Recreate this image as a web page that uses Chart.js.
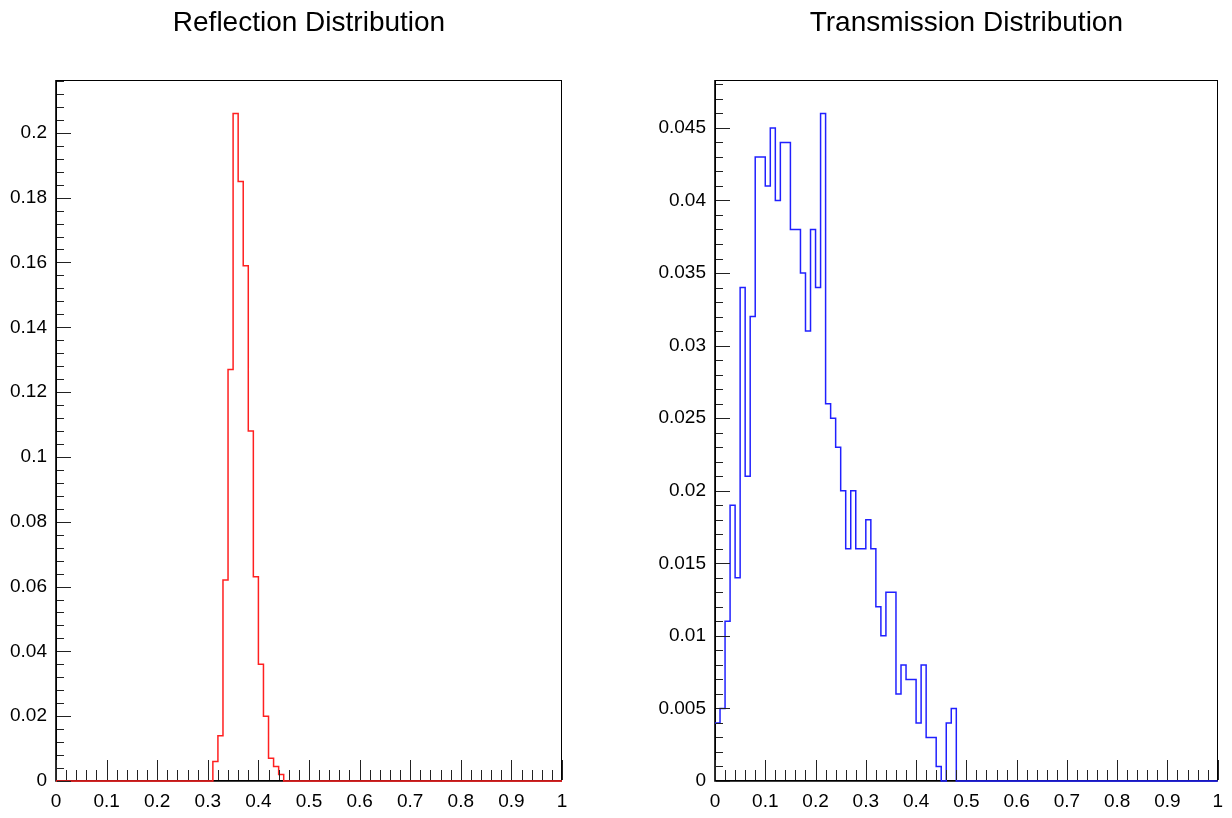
<!DOCTYPE html>
<html><head><meta charset="utf-8">
<script src="https://cdn.jsdelivr.net/npm/chart.js@4.4.1/dist/chart.umd.min.js"></script>
<style>
html,body{margin:0;padding:0;background:#fff;}
#wrap{position:relative;width:1232px;height:818px;overflow:hidden;background:#fff;}
canvas{position:absolute;top:0;}
</style></head><body>
<div id="wrap">
<canvas id="refl" width="616" height="818" style="left:0"></canvas>
<canvas id="trans" width="616" height="818" style="left:616px"></canvas>
</div>
<script>
// ---- data ----
const binWidth = 0.01;
const reflectionValues = [
  0,0,0,0,0,0,0,0,0,0,
  0,0,0,0,0,0,0,0,0,0,
  0,0,0,0,0,0,0,0,0,0,
  0,0.006,0.014,0.062,0.127,0.206,0.185,0.159,0.108,0.063,
  0.036,0.020,0.007,0.0045,0.002,0,0,0,0,0,
  0,0,0,0,0,0,0,0,0,0,
  0,0,0,0,0,0,0,0,0,0,
  0,0,0,0,0,0,0,0,0,0,
  0,0,0,0,0,0,0,0,0,0,
  0,0,0,0,0,0,0,0,0,0
];
const transmissionValues = [
  0.004,0.005,0.011,0.019,0.014,0.034,0.021,0.032,0.043,0.043,
  0.041,0.045,0.040,0.044,0.044,0.038,0.038,0.035,0.031,0.038,
  0.034,0.046,0.026,0.025,0.023,0.020,0.016,0.020,0.016,0.016,
  0.018,0.016,0.012,0.010,0.013,0.013,0.006,0.008,0.007,0.007,
  0.004,0.008,0.003,0.003,0.001,0,0.004,0.005,0,0,
  0,0,0,0,0,0,0,0,0,0,
  0,0,0,0,0,0,0,0,0,0,
  0,0,0,0,0,0,0,0,0,0,
  0,0,0,0,0,0,0,0,0,0,
  0,0,0,0,0,0,0,0,0,0
];
const xTickValues = [0,0.1,0.2,0.3,0.4,0.5,0.6,0.7,0.8,0.9,1];
const xTickLabels = ['0','0.1','0.2','0.3','0.4','0.5','0.6','0.7','0.8','0.9','1'];
const reflYTickValues = [0,0.02,0.04,0.06,0.08,0.1,0.12,0.14,0.16,0.18,0.2];
const reflYTickLabels = ['0','0.02','0.04','0.06','0.08','0.1','0.12','0.14','0.16','0.18','0.2'];
const transYTickValues = [0,0.005,0.01,0.015,0.02,0.025,0.03,0.035,0.04,0.045];
const transYTickLabels = ['0','0.005','0.01','0.015','0.02','0.025','0.03','0.035','0.04','0.045'];

const FONT = '"Liberation Sans", Arial, Helvetica, sans-serif';

function histPoints(values) {
  const pts = values.map((v, i) => ({x: i * binWidth, y: v}));
  pts.push({x: values.length * binWidth, y: values[values.length - 1]});
  return pts;
}

const rootFrame = {
  id: 'rootFrame',
  beforeDatasetsDraw(chart) {
    const {ctx, chartArea: a} = chart;
    ctx.save();
    ctx.strokeStyle = '#000';
    ctx.lineWidth = 1;
    ctx.strokeRect(Math.round(a.left) + 0.5, Math.round(a.top) + 0.5,
                   Math.round(a.right - a.left) - 1, Math.round(a.bottom - a.top) - 1);
    ctx.lineWidth = 1.6;
    ctx.beginPath();
    ctx.moveTo(Math.round(a.left), a.top);
    ctx.lineTo(Math.round(a.left), a.bottom);
    ctx.lineTo(a.right, a.bottom);
    ctx.stroke();
    ctx.restore();
  },
  afterDraw(chart, args, o) {
    const {ctx, chartArea: a} = chart;
    const xs = chart.scales.x, ys = chart.scales.y;
    ctx.save();
    ctx.strokeStyle = '#222';
    ctx.lineWidth = 1;
    ctx.beginPath();
    const nx = Math.round((xs.max - xs.min) / o.xMinor);
    for (let k = 0; k <= nx; k++) {
      const v = xs.min + k * o.xMinor;
      const major = k % o.xPerMajor === 0;
      const px = Math.round(xs.getPixelForValue(v)) + 0.5;
      ctx.moveTo(px, a.bottom - 1);
      ctx.lineTo(px, a.bottom - (major ? o.xMajorLen : o.xMinorLen));
    }
    const ny = Math.floor((ys.max - ys.min) / o.yMinor + 1e-6);
    for (let k = 0; k <= ny; k++) {
      const v = ys.min + k * o.yMinor;
      const major = k % o.yPerMajor === 0;
      const py = Math.round(ys.getPixelForValue(v)) + 0.5;
      ctx.moveTo(a.left + 1, py);
      ctx.lineTo(a.left + (major ? o.yMajorLen : o.yMinorLen), py);
    }
    ctx.stroke();
    ctx.restore();
  }
};

function makeChart(id, cfg) {
  const yMax = Math.max(...cfg.values) * 1.05;
  return new Chart(document.getElementById(id), {
    type: 'line',
    data: {
      datasets: [{
        data: histPoints(cfg.values),
        borderColor: cfg.color,
        borderWidth: 1.5,
        pointRadius: 0,
        stepped: true,
        fill: false,
        tension: 0,
        clip: 4
      }]
    },
    options: {
      responsive: false,
      animation: false,
      devicePixelRatio: 1,
      layout: {padding: {left: 0, right: cfg.padRight, top: 0, bottom: 0}},
      plugins: {
        legend: {display: false},
        tooltip: {enabled: false},
        title: {
          display: true,
          text: cfg.title,
          fullSize: false,
          color: '#000',
          font: {family: FONT, size: 28, weight: 'normal', lineHeight: 1.2},
          padding: {top: 6, bottom: 40.4}
        },
        rootFrame: {xMinor: 0.02, xPerMajor: 5, xMajorLen: 21, xMinorLen: 11,
                    yMinor: cfg.yMinor, yPerMajor: 5, yMajorLen: 15, yMinorLen: 8}
      },
      scales: {
        x: {
          type: 'linear', min: 0, max: 1,
          grid: {display: false, drawTicks: false},
          border: {display: false},
          afterFit: s => { s.height = 37; },
          afterBuildTicks: s => { s.ticks = xTickValues.map(v => ({value: v})); },
          ticks: {
            padding: 9, maxRotation: 0, autoSkip: false, color: '#000',
            font: {family: FONT, size: 19},
            callback: (v) => xTickLabels[xTickValues.findIndex(t => Math.abs(t - v) < 1e-9)]
          }
        },
        y: {
          type: 'linear', min: 0, max: yMax,
          grid: {display: false, drawTicks: false},
          border: {display: false},
          afterFit: s => { s.width = cfg.yWidth; },
          afterBuildTicks: s => { s.ticks = cfg.yTicks.map(v => ({value: v})); },
          ticks: {
            padding: 9, autoSkip: false, color: '#000',
            font: {family: FONT, size: 19},
            callback: (v) => cfg.yLabels[cfg.yTicks.findIndex(t => Math.abs(t - v) < 1e-9)]
          }
        }
      }
    },
    plugins: [rootFrame]
  });
}

makeChart('refl', {
  values: reflectionValues, color: '#ff2020', title: 'Reflection Distribution',
  yTicks: reflYTickValues, yLabels: reflYTickLabels, yMinor: 0.004,
  yWidth: 56, padRight: 54
});
makeChart('trans', {
  values: transmissionValues, color: '#2020ff', title: 'Transmission Distribution',
  yTicks: transYTickValues, yLabels: transYTickLabels, yMinor: 0.001,
  yWidth: 99, padRight: 11
});
</script>
</body></html>
